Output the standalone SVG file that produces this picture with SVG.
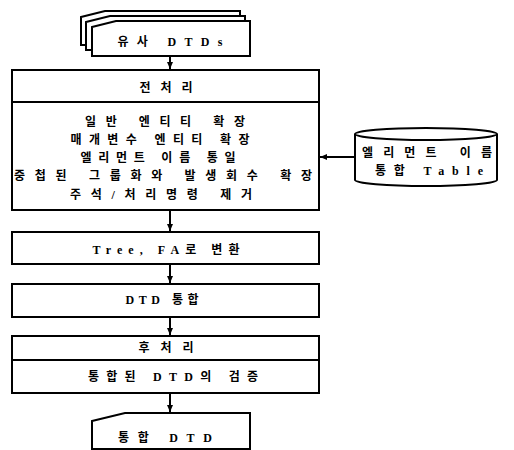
<svg xmlns="http://www.w3.org/2000/svg" width="514" height="450" viewBox="0 0 514 450">
<style>
.box{fill:#fff;stroke:#000;stroke-width:2}
.ln{fill:none;stroke:#000;stroke-width:2}
.t{font-family:"Liberation Serif","Noto Sans CJK KR",serif;font-size:12px;font-weight:bold;fill:#000;text-anchor:middle}
</style>
<defs>
<marker id="ah" markerWidth="8" markerHeight="8" refX="7" refY="4" orient="auto" markerUnits="userSpaceOnUse">
<path d="M0,1 L7,4 L0,7 Z" fill="#000"/>
</marker>
</defs>
<g id="connectors">
<line class="ln" x1="170" y1="56" x2="170" y2="69" marker-end="url(#ah)"/>
<line class="ln" x1="170" y1="211" x2="170" y2="231" marker-end="url(#ah)"/>
<line class="ln" x1="170" y1="265" x2="170" y2="283" marker-end="url(#ah)"/>
<line class="ln" x1="170" y1="318" x2="170" y2="335" marker-end="url(#ah)"/>
<line class="ln" x1="170" y1="394" x2="170" y2="412" marker-end="url(#ah)"/>
<line class="ln" x1="354" y1="157" x2="320" y2="157" marker-end="url(#ah)"/>
</g>
<g id="similar-dtds">
<path class="box" d="M81,17 L105,11 L240,11 L240,45 L81,45 Z"/>
<path class="box" d="M86,22 L110,16 L245,16 L245,50 L86,50 Z"/>
<path class="box" d="M92,27 L116,21 L250,21 L250,56 L92,56 Z"/>
<text class="t" x="170" y="46" textLength="105" lengthAdjust="spacing">유사 DTDs</text>
</g>
<g id="preprocess">
<rect class="box" x="12" y="70" width="307" height="140"/>
<line class="ln" x1="12" y1="102" x2="319" y2="102"/>
<text class="t" x="166" y="92" textLength="53" lengthAdjust="spacing">전처리</text>
<text class="t" x="165" y="126" textLength="160" lengthAdjust="spacing">일반 엔티티 확장</text>
<text class="t" x="160" y="144" textLength="179" lengthAdjust="spacing">매개변수 엔티티 확장</text>
<text class="t" x="158" y="162" textLength="155" lengthAdjust="spacing">엘리먼트 이름 통일</text>
<text class="t" x="163" y="180" textLength="298" lengthAdjust="spacing">중첩된 그룹화와 발생회수 확장</text>
<text class="t" x="161" y="199" textLength="182" lengthAdjust="spacing">주석/처리명령 제거</text>
</g>
<g id="name-table">
<path class="box" d="M355,134 A71,6 0 0 1 497,134 L497,180 A71,6 0 0 1 355,180 Z"/>
<path class="ln" d="M355,134 A71,6 0 0 0 497,134"/>
<text class="t" x="427" y="157" textLength="130" lengthAdjust="spacing">엘리먼트 이름</text>
<text class="t" x="429" y="175" textLength="108" lengthAdjust="spacing">통합 Table</text>
</g>
<g id="convert">
<rect class="box" x="12" y="232" width="307" height="32"/>
<text class="t" x="166" y="254" textLength="147" lengthAdjust="spacing">Tree, FA로 변환</text>
</g>
<g id="merge">
<rect class="box" x="12" y="284" width="307" height="33"/>
<text class="t" x="162" y="304" textLength="73" lengthAdjust="spacing">DTD 통합</text>
</g>
<g id="postprocess">
<rect class="box" x="12" y="336" width="307" height="57"/>
<line class="ln" x1="12" y1="360" x2="319" y2="360"/>
<text class="t" x="166" y="352" textLength="55" lengthAdjust="spacing">후처리</text>
<text class="t" x="173" y="381" textLength="170" lengthAdjust="spacing">통합된 DTD의 검증</text>
</g>
<g id="merged-dtd">
<path class="box" d="M92,421 L125,413 L250,413 L250,449 L92,449 Z"/>
<text class="t" x="165" y="442" textLength="94" lengthAdjust="spacing">통합 DTD</text>
</g>
</svg>
